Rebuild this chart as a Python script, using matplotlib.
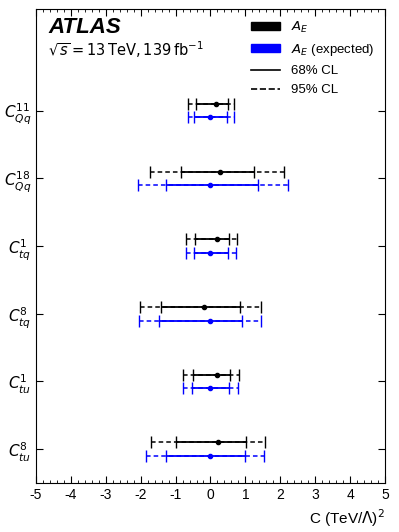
import matplotlib
matplotlib.use("Agg")
import matplotlib.pyplot as plt
from matplotlib.patches import Patch
from matplotlib.lines import Line2D

plt.rcParams['font.family'] = ['Liberation Sans', 'DejaVu Sans']
plt.rcParams['axes.unicode_minus'] = False
plt.rcParams['mathtext.fontset'] = 'dejavusans'

labels = [r'$C_{Qq}^{11}$', r'$C_{Qq}^{18}$', r'$C_{tq}^{1}$',
          r'$C_{tq}^{8}$', r'$C_{tu}^{1}$', r'$C_{tu}^{8}$']

# observed: centre, 68% low/high, 95% low/high
obs_c = [0.16, 0.27, 0.18, -0.18, 0.18, 0.22]
obs_lo68 = [-0.42, -0.85, -0.44, -1.42, -0.51, -1.00]
obs_hi68 = [0.49, 1.25, 0.53, 0.85, 0.56, 1.01]
obs_lo95 = [-0.65, -1.73, -0.69, -2.01, -0.78, -1.69]
obs_hi95 = [0.68, 2.11, 0.76, 1.44, 0.82, 1.57]

# expected
exp_c = [0.0, 0.0, 0.0, 0.0, 0.0, 0.0]
exp_lo68 = [-0.46, -1.27, -0.48, -1.48, -0.54, -1.28]
exp_hi68 = [0.46, 1.36, 0.51, 0.90, 0.54, 0.99]
exp_lo95 = [-0.65, -2.07, -0.71, -2.04, -0.80, -1.85]
exp_hi95 = [0.68, 2.22, 0.73, 1.46, 0.79, 1.53]

ypos = [6, 5, 4, 3, 2, 1]

fig, ax = plt.subplots(figsize=(3.99, 5.32), dpi=100)
fig.subplots_adjust(left=0.09, right=0.965, top=0.983, bottom=0.092)


def draw(c, lo68, hi68, lo95, hi95, dy, color):
    y = [p + dy for p in ypos]
    e95 = ax.errorbar(c, y, xerr=[[a - b for a, b in zip(c, lo95)], [b - a for a, b in zip(c, hi95)]],
                      fmt='none', ecolor=color, elinewidth=1.1, capsize=4, capthick=1.0)
    e95[2][0].set_linestyle((0, (3, 2)))
    ax.errorbar(c, y, xerr=[[a - b for a, b in zip(c, lo68)], [b - a for a, b in zip(c, hi68)]],
                fmt='o', color=color, ms=3, elinewidth=1.3, capsize=4, capthick=1.0)


draw(obs_c, obs_lo68, obs_hi68, obs_lo95, obs_hi95, 0.1, 'black')
draw(exp_c, exp_lo68, exp_hi68, exp_lo95, exp_hi95, -0.1, 'blue')

ax.set_xlim(-5, 5)
ax.set_ylim(0.5, 7.5)
ax.set_yticks(ypos)
ax.set_yticklabels(labels, fontsize=11)
ax.set_xticks(range(-5, 6))
ax.set_xticks([x / 5 for x in range(-25, 26)], minor=True)
ax.tick_params(axis='x', direction='in', labelsize=10, length=5, top=True)
ax.tick_params(axis='x', which='minor', direction='in', length=2.5, top=True)
ax.tick_params(axis='y', direction='in', length=5, right=True, labelsize=11)
ax.set_xlabel(r'C (TeV/$\Lambda$)$^2$', fontsize=11, loc='right')

ax.text(0.035, 0.984, 'ATLAS', transform=ax.transAxes, fontsize=16,
        fontweight='bold', fontstyle='italic', va='top')
ax.text(0.035, 0.915, r'$\sqrt{s} = 13\,\mathrm{TeV}, 139\,\mathrm{fb}^{-1}$',
        transform=ax.transAxes, fontsize=10.5, va='center')

handles = [Patch(color='black', label=r'$A_E$'),
           Patch(color='blue', label=r'$A_E$ (expected)'),
           Line2D([], [], color='black', lw=1.2, label='68% CL'),
           Line2D([], [], color='black', lw=1.2, ls='--', label='95% CL')]
ax.legend(handles=handles, loc='upper right', frameon=False, fontsize=9.5,
          handlelength=2.2, handleheight=0.6, labelspacing=0.55, borderaxespad=0.4)

fig.savefig('out.png', dpi=100)
